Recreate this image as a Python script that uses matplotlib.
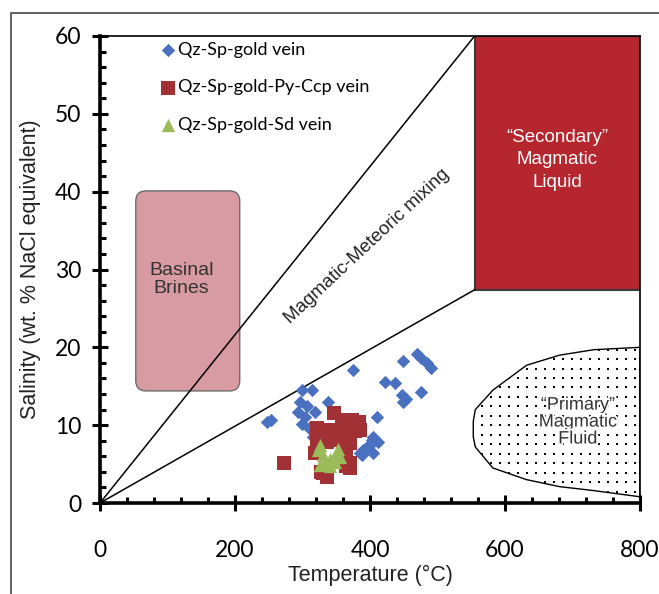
"""Fluid inclusion homogenisation temperature vs salinity plot with fluid field boundaries"""
import matplotlib

matplotlib.use("Agg")
import matplotlib.patheffects as pe
import matplotlib.pyplot as plt
import numpy as np
from matplotlib.lines import Line2D
from matplotlib.patches import FancyBboxPatch, Polygon, Rectangle

# Fluid inclusion data (temperature degC, salinity wt.% NaCl eq.)
qz_sp_gold_T = [247, 254, 375, 449, 469, 476, 484, 491, 422, 437, 447, 454, 449, 476,
                410, 338, 299, 314, 296, 306, 318, 294, 304, 299, 309, 316, 403, 395,
                385, 405, 412, 400, 390, 388, 405]
qz_sp_gold_S = [10.4, 10.7, 17.1, 18.2, 19.2, 18.6, 17.95, 17.3, 15.6, 15.4, 13.9, 13.4, 13.0, 14.3,
                11.1, 13.0, 14.5, 14.5, 13.0, 12.4, 11.7, 11.7, 11.1, 10.2, 9.6, 8.5, 8.1, 7.2,
                6.4, 8.5, 7.9, 7.45, 6.8, 6.2, 6.4]

qz_sp_gold_py_ccp_T = [272, 346, 358, 373, 383, 321, 336, 351, 365, 378, 385, 321, 336, 356,
                       370, 318, 365, 370, 370, 328, 336, 331, 365]
qz_sp_gold_py_ccp_S = [5.1, 11.5, 10.7, 10.7, 10.4, 9.6, 9.4, 9.4, 9.0, 9.2, 9.4, 8.1, 7.9, 8.1,
                       7.7, 6.4, 6.4, 5.1, 4.5, 4.0, 3.4, 3.8, 4.7]

qz_sp_gold_sd_T = [323, 331, 341, 333, 351, 356, 348, 326, 341, 326, 353]
qz_sp_gold_sd_S = [6.8, 6.2, 5.7, 5.1, 6.6, 5.95, 5.3, 4.9, 4.7, 7.45, 7.0]

# Field boundaries
mixing_upper = [(0, 0), (555, 60)]
mixing_lower = [(0, 0), (555, 27.4)]
secondary_box = (555, 27.4, 800, 60)  # x0, y0, x1, y1
basinal_box = (53, 14.4, 207, 40.1)
primary_T = [800, 732, 681, 632, 582, 556, 553, 553, 556, 582, 632, 681, 731, 800]
primary_S = [20.0, 19.7, 19.0, 17.7, 14.5, 12.0, 10.5, 8.5, 7.2, 4.5, 3.0, 2.1, 1.6, 0.8]

fig = plt.figure(figsize=(6.59, 5.94), dpi=100)
ax = fig.add_axes([100 / 659, 91 / 594, 540 / 659, 467 / 594])

# outer frame of the original figure (cropped at right/bottom)
fig.add_artist(Line2D([10.5 / 659, 10.5 / 659, 1.01], [-0.01, 1 - 12.5 / 594, 1 - 12.5 / 594],
                      transform=fig.transFigure, color="#555555", lw=1.3))

# Basinal brines (rounded box)
bx0, by0, bx1, by1 = basinal_box
ax.add_patch(FancyBboxPatch((bx0, by0), bx1 - bx0, by1 - by0,
                            boxstyle="round,pad=0,rounding_size=15", mutation_aspect=0.0867,
                            fc="#D99BA3", ec="#6b6b6b", lw=1, zorder=1))
ax.text((bx0 + bx1) / 2 - 9, (by0 + by1) / 2 + 1.5, "Basinal\nBrines", ha="center", va="center",
        fontsize=14, color="#333333", linespacing=1.1, family="Liberation Sans")

# Secondary magmatic liquid
sx0, sy0, sx1, sy1 = secondary_box
ax.add_patch(Rectangle((sx0, sy0), sx1 - sx0, sy1 - sy0, fc="#B5262F", ec="#3a3a3a",
                       lw=1.5, zorder=2))
ax.text(677, 44.1, "\u201cSecondary\u201d\nMagmatic\nLiquid", ha="center", va="center",
        fontsize=13.5, color="white", linespacing=1.42, family="Liberation Sans")

# Mixing lines
for seg in (mixing_upper, mixing_lower):
    ax.plot([p[0] for p in seg], [p[1] for p in seg], color="black", lw=1.1, zorder=2)
ax.text(396, 33.0, "Magmatic-Meteoric mixing", rotation=43, rotation_mode="anchor",
        ha="center", va="center", fontsize=13.5, color="#222222", family="Liberation Sans")

# Primary magmatic fluid (dotted field)
prim = Polygon(np.column_stack([primary_T, primary_S]), closed=True, fc="white",
               ec="black", lw=1, zorder=2)
ax.add_patch(prim)
gx, gy = np.meshgrid(np.arange(553, 805, 13.3), np.arange(0.2, 21, 1.22))
dots = ax.scatter(gx.ravel(), gy.ravel(), s=4, marker="s", color="black", lw=0, zorder=3)
dots.set_clip_path(prim)
ax.text(708, 10.4, "\u201cPrimary\u201d\nMagmatic\nFluid", ha="center", va="center",
        fontsize=13, color="#333333", linespacing=1.0, family="Liberation Sans", zorder=4,
        path_effects=[pe.withStroke(linewidth=3, foreground="white")])

# Data points
ax.scatter(qz_sp_gold_T, qz_sp_gold_S, marker="D", s=6.8 ** 2, color="#4A70C0", lw=0,
           zorder=5, label="Qz-Sp-gold vein")
ax.scatter(qz_sp_gold_py_ccp_T, qz_sp_gold_py_ccp_S, marker="s", s=9.4 ** 2, color="#A23135",
           lw=0, zorder=6, label="Qz-Sp-gold-Py-Ccp vein")
ax.scatter(qz_sp_gold_sd_T, qz_sp_gold_sd_S, marker="^", s=9.6 ** 2, color="#9BBB59",
           lw=0, zorder=7, label="Qz-Sp-gold-Sd vein")

ax.set_xlim(0, 800)
ax.set_ylim(0, 60)
ax.set_xticks(np.arange(0, 801, 200))
ax.set_yticks(np.arange(0, 61, 10))
ax.set_xticks(np.arange(0, 801, 40), minor=True)
ax.set_yticks(np.arange(0, 61, 2), minor=True)
ax.tick_params(which="major", direction="inout", length=11, width=2.2, labelsize=16.5)
ax.tick_params(axis="x", which="major", pad=21)
ax.tick_params(axis="y", which="major", pad=8)
ax.tick_params(which="minor", direction="in", length=4.5, width=2.2)
for lab in ax.get_xticklabels() + ax.get_yticklabels():
    lab.set_family("Lato")
for s in ("left", "bottom"):
    ax.spines[s].set_linewidth(2.6)
for s in ("top", "right"):
    ax.spines[s].set_linewidth(1.2)

ax.set_xlabel("Temperature (\u00b0C)", fontsize=15.5, family="Liberation Sans", color="#222222",
              labelpad=3)
ax.set_ylabel("Salinity (wt. % NaCl equivalent)", fontsize=15.5, family="Liberation Sans",
              color="#222222", labelpad=10)

ax.legend(loc="upper left", bbox_to_anchor=(0.08, 1.015), frameon=False, handletextpad=-0.2,
          labelspacing=1.2, handlelength=1.4, borderpad=0.2, scatterpoints=1,
          prop={"family": "Lato", "size": 13})

fig.savefig("out.png", dpi=100)
